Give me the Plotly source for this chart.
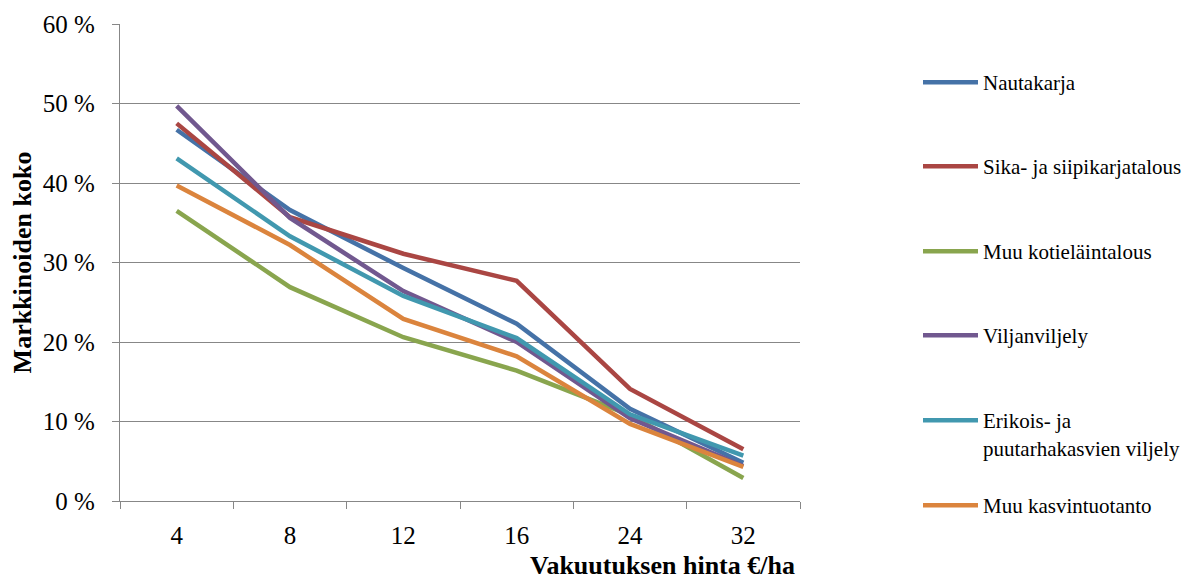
import plotly.graph_objects as go

categories = ["4", "8", "12", "16", "24", "32"]

nautakarja = [46.7, 36.6, 29.3, 22.3, 11.6, 4.8]
sika = [47.5, 35.7, 31.1, 27.7, 14.1, 6.5]
muu_kotielain = [36.5, 26.9, 20.6, 16.4, 10.8, 2.9]
viljanviljely = [49.7, 35.6, 26.4, 20.0, 10.4, 4.4]
erikois = [43.1, 33.3, 25.8, 20.5, 10.9, 5.7]
muu_kasvi = [39.7, 32.2, 22.9, 18.2, 9.7, 4.3]

series_names = [
    "Nautakarja",
    "Sika- ja siipikarjatalous",
    "Muu kotieläintalous",
    "Viljanviljely",
    "Erikois- ja<br>puutarhakasvien viljely",
    "Muu kasvintuotanto",
]
series_values = [nautakarja, sika, muu_kotielain, viljanviljely, erikois, muu_kasvi]
colors = ["#4572A7", "#AA4643", "#89A54E", "#71588F", "#4198AF", "#DB843D"]

y_ticks = [0, 10, 20, 30, 40, 50, 60]
y_ticklabels = ["0 %", "10 %", "20 %", "30 %", "40 %", "50 %", "60 %"]

x_title = "Vakuutuksen hinta €/ha"
y_title = "Markkinoiden koko"

FONT = "Liberation Serif"
GRAY = "#878787"

# plot area pixel geometry
L, R, T, B = 120, 800, 24, 501
W, H = 1185, 580

def px_to_paper_y(py):
    return (B - py) / (B - T)

def px_to_paper_x(px):
    return (px - L) / (R - L)

legend_y_px = [83, 167, 252, 336, 421, 506]

fig = go.Figure()
layout_legends = {}
for i, (name, vals, col) in enumerate(zip(series_names, series_values, colors)):
    key = "legend" if i == 0 else f"legend{i + 1}"
    fig.add_trace(go.Scatter(
        x=categories, y=vals, name=name, mode="lines",
        line=dict(color=col, width=4.5),
        legend=key,
    ))
    layout_legends[key] = dict(
        x=px_to_paper_x(918), xanchor="left",
        y=px_to_paper_y(legend_y_px[i] - 21), yanchor="top",
        font=dict(family=FONT, size=21, color="#000"),
        bgcolor="rgba(0,0,0,0)",
        itemwidth=55,
        valign="top",
    )

fig.update_layout(
    width=W, height=H,
    margin=dict(l=L, r=W - R, t=T, b=H - B, autoexpand=False),
    paper_bgcolor="white", plot_bgcolor="white",
    font=dict(family=FONT, size=25, color="#000"),
    showlegend=True,
    **layout_legends,
)

fig.update_xaxes(
    type="category", range=[-0.5, 5.5],
    showline=True, linecolor=GRAY, linewidth=1.3,
    ticks="outside", tickson="boundaries", ticklen=7, tickcolor=GRAY, tickwidth=1.3,
    showgrid=False, ticklabelstandoff=12,
    tickfont=dict(family=FONT, size=25, color="#000"),
)
fig.update_yaxes(
    range=[0, 60], tickvals=y_ticks, ticktext=y_ticklabels,
    showline=True, linecolor=GRAY, linewidth=1.3,
    ticks="outside", ticklen=7, tickcolor=GRAY, tickwidth=1.3,
    showgrid=True, gridcolor=GRAY, gridwidth=1.3,
    zeroline=False, ticklabelstandoff=12,
    tickfont=dict(family=FONT, size=25, color="#000"),
    title=dict(text=f"<b>{y_title}</b>", font=dict(family=FONT, size=26, color="#000"), standoff=3),
)

fig.add_annotation(
    text=f"<b>{x_title}</b>", xref="paper", yref="paper",
    x=px_to_paper_x(797), y=px_to_paper_y(565), xanchor="right", yanchor="middle",
    showarrow=False, font=dict(family=FONT, size=26, color="#000"),
)

fig.write_html("out.html")
